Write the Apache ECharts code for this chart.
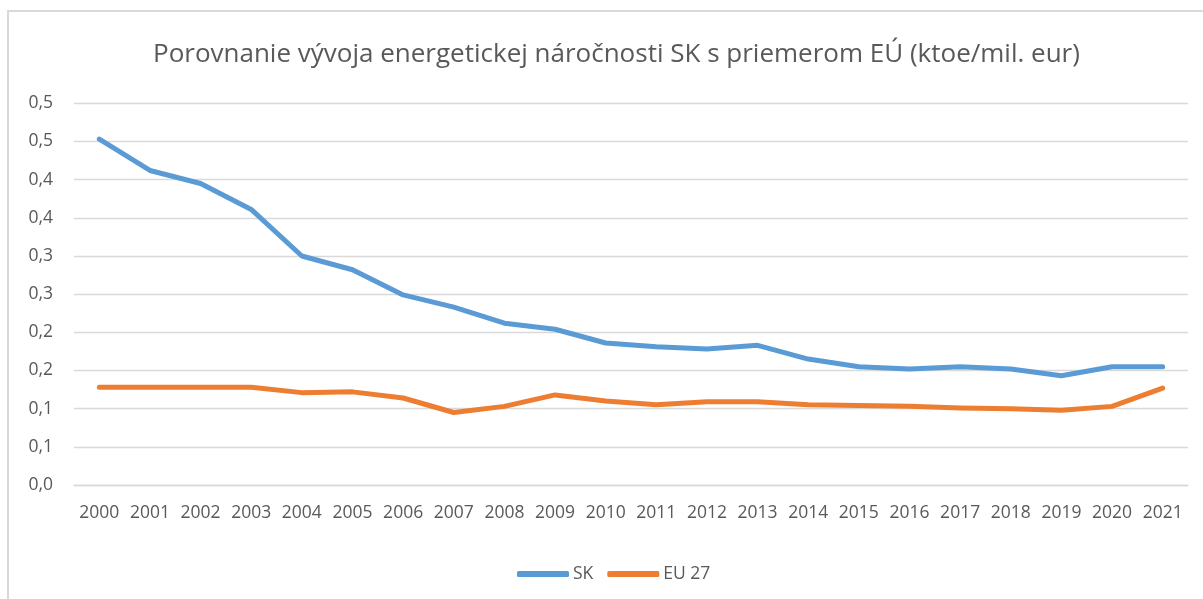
<!DOCTYPE html>
<html>
<head>
<meta charset="utf-8">
<script src="https://cdn.jsdelivr.net/npm/echarts@6/dist/echarts.min.js"></script>
<style>
html,body{margin:0;padding:0;background:#fff;}
#wrap{position:relative;width:1203px;height:599px;overflow:hidden;background:#fff;}
#frame{position:absolute;left:7px;top:10px;width:1300px;height:700px;border-left:2px solid #d9d9d9;border-top:2px solid #d9d9d9;box-sizing:border-box;}
#chart{position:absolute;left:0;top:0;width:1203px;height:599px;}
</style>
</head>
<body>
<div id="wrap"><div id="frame"></div><div id="chart"></div></div>
<script>
const titleText = 'Porovnanie vývoja energetickej náročnosti SK s priemerom EÚ (ktoe/mil. eur)';
const years = ['2000','2001','2002','2003','2004','2005','2006','2007','2008','2009','2010','2011','2012','2013','2014','2015','2016','2017','2018','2019','2020','2021'];
const skValues = [0.453,0.412,0.395,0.361,0.300,0.282,0.249,0.233,0.212,0.204,0.186,0.181,0.178,0.183,0.165,0.155,0.152,0.155,0.152,0.143,0.155,0.155];
const euValues = [0.128,0.128,0.128,0.128,0.121,0.122,0.114,0.095,0.103,0.118,0.110,0.105,0.109,0.109,0.105,0.104,0.103,0.101,0.100,0.098,0.103,0.127];
const yTickLabels = ['0,0','0,1','0,1','0,2','0,2','0,3','0,3','0,4','0,4','0,5','0,5'];
const yStep = 0.05;

const FONT = 'Open Sans';
const chart = echarts.init(document.getElementById('chart'), null, {renderer:'canvas'});
chart.setOption({
  animation:false,
  title:{text:titleText,left:148,top:37,textStyle:{fontFamily:FONT,fontSize:26,fontWeight:'normal',color:'#595959'}},
  legend:{
    left:512, top:560, itemWidth:52, itemHeight:6, itemGap:14, icon:'roundRect',
    textStyle:{fontFamily:FONT,fontSize:17.5,color:'#595959',padding:[0,0,0,-1]},
    data:['SK','EU 27']
  },
  grid:{left:74,right:15,top:103.3,bottom:114,containLabel:false},
  xAxis:{
    type:'category',data:years,boundaryGap:true,
    axisLine:{show:true,lineStyle:{color:'#d9d9d9',width:1.3}},
    axisTick:{show:false},
    axisLabel:{fontFamily:FONT,fontSize:17.5,color:'#595959',margin:19,interval:0}
  },
  yAxis:{
    type:'value',min:0,max:0.5,interval:yStep,
    axisLine:{show:false},axisTick:{show:false},
    splitLine:{lineStyle:{color:'#d9d9d9',width:1.3}},
    axisLabel:{fontFamily:FONT,fontSize:17.5,color:'#595959',margin:21,
      formatter:function(v){return yTickLabels[Math.round(v/yStep)];}}
  },
  series:[
    {name:'SK',type:'line',data:skValues,symbol:'none',lineStyle:{color:'#5b9bd5',width:5,cap:'round',join:'round'},itemStyle:{color:'#5b9bd5'}},
    {name:'EU 27',type:'line',data:euValues,symbol:'none',lineStyle:{color:'#ed7d31',width:5,cap:'round',join:'round'},itemStyle:{color:'#ed7d31'}}
  ]
});
</script>
</body>
</html>
